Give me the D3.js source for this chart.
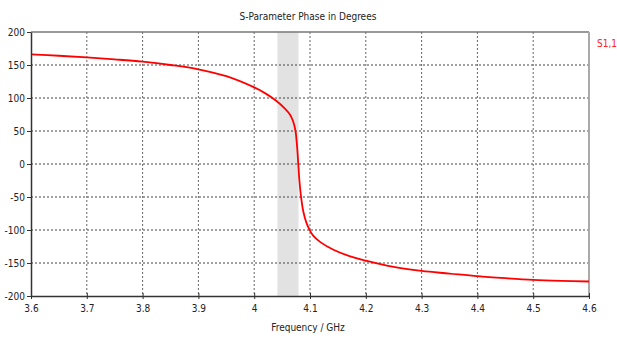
<!DOCTYPE html>
<html>
<head>
<meta charset="utf-8">
<script src="https://cdn.jsdelivr.net/npm/d3@7"></script>
<style>
  body { margin: 0; background: #fff; }
  text { font-family: "DejaVu Sans Condensed", Tahoma, "Liberation Sans", sans-serif; }
</style>
</head>
<body>
<div id="chart"></div>
<script>
// S11 phase
const freq = [3.6, 3.65, 3.7, 3.75, 3.8, 3.85, 3.9, 3.95, 4.0, 4.02, 4.04, 4.055, 4.064, 4.07, 4.074, 4.077, 4.079, 4.081, 4.084, 4.088, 4.094, 4.1, 4.106, 4.118, 4.142, 4.172, 4.2, 4.25, 4.3, 4.35, 4.4, 4.45, 4.5, 4.55, 4.6];
const phase = [166, 164, 161.5, 158.5, 155, 150, 143.5, 133, 116, 107, 95.5, 84, 75, 64, 50, 25, 0, -25, -50, -72, -90, -101, -109, -118, -130, -140, -146.5, -156, -162, -166, -170, -173, -175.5, -177, -178];
const xTicks = [3.6, 3.7, 3.8, 3.9, 4.0, 4.1, 4.2, 4.3, 4.4, 4.5, 4.6];
const yTicks = [-200, -150, -100, -50, 0, 50, 100, 150, 200];
const band = [4.042, 4.079];
const seriesName = "S1,1";

const svgWidth = 617, svgHeight = 338;
const margin = { top: 32, right: 28, bottom: 42, left: 31 };
const width = svgWidth - margin.left - margin.right;
const height = svgHeight - margin.top - margin.bottom;

const svg = d3.select("#chart").append("svg")
    .attr("width", svgWidth)
    .attr("height", svgHeight);

const g = svg.append("g")
    .attr("transform", "translate(" + margin.left + "," + margin.top + ")");

const x = d3.scaleLinear().domain([3.6, 4.6]).range([0, width]);
const y = d3.scaleLinear().domain([-200, 200]).range([height, 0]);

// shaded band
g.append("rect")
    .attr("x", x(band[0]))
    .attr("y", 0)
    .attr("width", x(band[1]) - x(band[0]))
    .attr("height", height)
    .attr("fill", "#e2e2e2")
    .attr("stroke", "#ececec");

// grid
g.selectAll(".hgrid").data(yTicks.slice(1, -1)).enter().append("line")
    .attr("x1", 0).attr("x2", width)
    .attr("y1", d => y(d)).attr("y2", d => y(d))
    .attr("stroke", "#444").attr("stroke-width", 1)
    .attr("stroke-dasharray", "2,2");
g.selectAll(".vgrid").data(xTicks.slice(1, -1)).enter().append("line")
    .attr("x1", d => x(d)).attr("x2", d => x(d))
    .attr("y1", 0).attr("y2", height)
    .attr("stroke", "#666").attr("stroke-width", 1)
    .attr("stroke-dasharray", "2,2");

// frame
g.append("line").attr("x1", 0).attr("x2", width).attr("y1", 0).attr("y2", 0)
    .attr("stroke", "#777").attr("stroke-width", 1.5);
g.append("line").attr("x1", width).attr("x2", width).attr("y1", 0).attr("y2", height)
    .attr("stroke", "#aaa").attr("stroke-width", 2);

// curve
const line = d3.line()
    .x((d, i) => x(freq[i]))
    .y(d => y(d))
    .curve(d3.curveCatmullRom.alpha(0.5));
g.append("path")
    .datum(phase)
    .attr("fill", "none")
    .attr("stroke", "#ff0000")
    .attr("stroke-width", 1.8)
    .attr("d", line);

// axes
const xAxis = g.append("g")
    .attr("transform", "translate(0," + height + ")")
    .call(d3.axisBottom(x).tickValues(xTicks).tickSizeInner(3).tickSizeOuter(0).tickPadding(6).tickFormat(d => String(d)));
xAxis.selectAll(".tick line").attr("y1", -3).attr("stroke", "#333");
xAxis.select(".domain").attr("stroke", "#333").attr("stroke-width", 1.5);

const yAxis = g.append("g")
    .call(d3.axisLeft(y).tickValues(yTicks).tickSizeInner(4).tickSizeOuter(0).tickPadding(2).tickFormat(d => String(d)));
yAxis.selectAll(".tick line").attr("stroke", "#333");
yAxis.select(".domain").attr("stroke", "#333").attr("stroke-width", 1.5);

svg.selectAll(".tick text").attr("font-size", 10).attr("fill", "#222")
    .style("font-family", "'DejaVu Sans Condensed', Tahoma, sans-serif");

// texts
svg.append("text")
    .attr("x", 308).attr("y", 20)
    .attr("text-anchor", "middle")
    .attr("font-size", 10).attr("fill", "#222")
    .text("S-Parameter Phase in Degrees");

svg.append("text")
    .attr("x", 308).attr("y", 331)
    .attr("text-anchor", "middle")
    .attr("font-size", 10).attr("fill", "#222")
    .text("Frequency / GHz");

svg.append("text")
    .attr("x", 597).attr("y", 47)
    .attr("font-size", 10).attr("fill", "#ff2020")
    .text(seriesName);
</script>
</body>
</html>
